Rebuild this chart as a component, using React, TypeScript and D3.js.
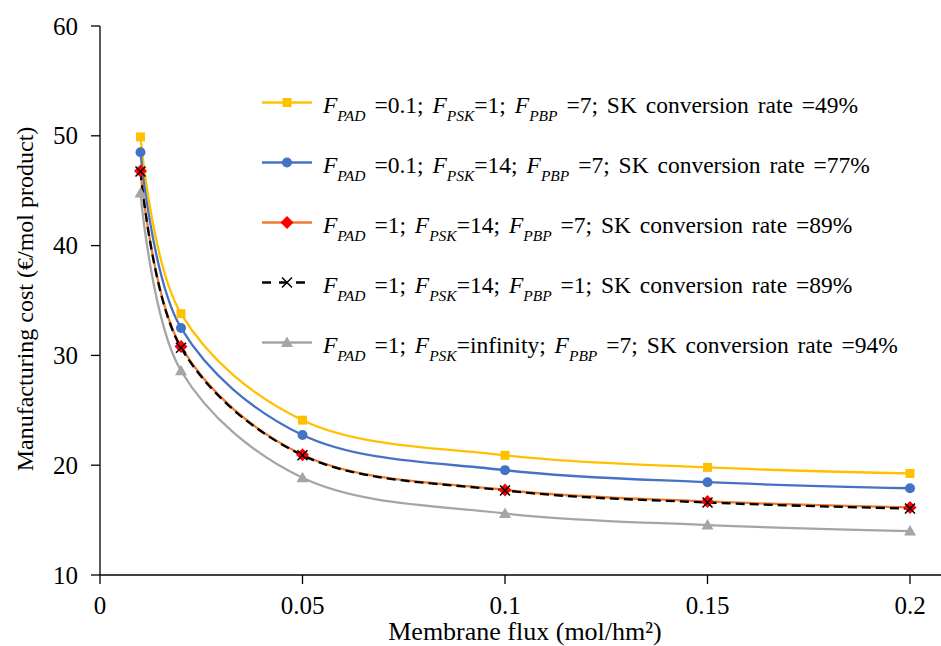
import React from "react";
import * as d3 from "d3";

const fluxValues = [0.01, 0.02, 0.05, 0.1, 0.15, 0.2];
const seriesYellow = [49.9, 33.8, 24.1, 20.9, 19.8, 19.25];
const seriesBlue = [48.5, 32.5, 22.75, 19.55, 18.45, 17.9];
const seriesOrange = [46.8, 30.8, 20.95, 17.75, 16.7, 16.15];
const seriesBlack = [46.75, 30.7, 20.9, 17.7, 16.6, 16.05];
const seriesGray = [44.8, 28.6, 18.85, 15.6, 14.55, 14.0];
const xTicks = [0, 0.05, 0.1, 0.15, 0.2];
const yTicks = [10, 20, 30, 40, 50, 60];

type Leg = { pad: string; psk: string; pbp: string; rate: string };
const legendLabels: Leg[] = [
  { pad: "0.1", psk: "1", pbp: "7", rate: "49%" },
  { pad: "0.1", psk: "14", pbp: "7", rate: "77%" },
  { pad: "1", psk: "14", pbp: "7", rate: "89%" },
  { pad: "1", psk: "14", pbp: "1", rate: "89%" },
  { pad: "1", psk: "infinity", pbp: "7", rate: "94%" },
];

const FONT = "Liberation Serif";

export default function App() {
  const W = 941, H = 646;
  const x = d3.scaleLinear().domain([0, 0.2]).range([100, 910]);
  const y = d3.scaleLinear().domain([10, 60]).range([575, 26]);
  const line = d3
    .line<number>()
    .x((_, i) => x(fluxValues[i]))
    .y((d) => y(d))
    .curve(d3.curveCatmullRom.alpha(0.5));

  const series = [
    { data: seriesYellow, color: "#FFC000", marker: "square", dash: undefined as string | undefined },
    { data: seriesBlue, color: "#4472C4", marker: "circle", dash: undefined },
    { data: seriesOrange, color: "#ED7D31", marker: "diamond", dash: undefined },
    { data: seriesBlack, color: "#000000", marker: "x", dash: "9,5" },
    { data: seriesGray, color: "#A5A5A5", marker: "triangle", dash: undefined },
  ];

  const drawMarker = (m: string, cx: number, cy: number, key: string) => {
    if (m === "square") return <rect key={key} x={cx - 4.5} y={cy - 4.5} width={9} height={9} fill="#FFC000" />;
    if (m === "circle") return <circle key={key} cx={cx} cy={cy} r={5} fill="#4472C4" />;
    if (m === "diamond")
      return <path key={key} d={`M${cx},${cy - 6.5}L${cx + 6.5},${cy}L${cx},${cy + 6.5}L${cx - 6.5},${cy}Z`} fill="#FF0000" />;
    if (m === "x")
      return (
        <path key={key} d={`M${cx - 5},${cy - 5}L${cx + 5},${cy + 5}M${cx + 5},${cy - 5}L${cx - 5},${cy + 5}`} stroke="#000" strokeWidth={1.5} fill="none" />
      );
    return <path key={key} d={`M${cx},${cy - 6}L${cx + 6},${cy + 4.5}L${cx - 6},${cy + 4.5}Z`} fill="#A5A5A5" />;
  };

  const legendY = [102.5, 162.5, 222.5, 282.5, 342.5];
  const ts = { fontFamily: FONT };

  return (
    <svg width={W} height={H} style={{ position: "absolute", left: 0, top: 0, fontFamily: FONT }}>
      <rect width={W} height={H} fill="#fff" />
      {/* axes */}
      <line x1={x(0)} x2={941} y1={575} y2={575} stroke="#000" strokeWidth={1.3} />
      <line x1={x(0)} x2={x(0)} y1={y(60)} y2={575} stroke="#000" strokeWidth={1.3} />
      {yTicks.map((t) => (
        <g key={"y" + t}>
          <line x1={x(0) - 9} x2={x(0)} y1={y(t)} y2={y(t)} stroke="#000" strokeWidth={1.3} />
          <text x={78} y={y(t) + 8.5} textAnchor="end" fontSize={25} style={ts}>
            {t}
          </text>
        </g>
      ))}
      {xTicks.map((t) => (
        <g key={"x" + t}>
          <line x1={x(t)} x2={x(t)} y1={575} y2={584} stroke="#000" strokeWidth={1.3} />
          <text x={x(t)} y={614} textAnchor="middle" fontSize={25} style={ts}>
            {t}
          </text>
        </g>
      ))}
      <text x={525} y={640} textAnchor="middle" fontSize={26} style={ts}>
        Membrane flux (mol/hm²)
      </text>
      <text transform="translate(33,299) rotate(-90)" textAnchor="middle" fontSize={24} style={ts}>
        Manufacturing cost (€/mol product)
      </text>
      {/* series */}
      {series.map((s, si) => (
        <g key={"s" + si}>
          <path d={line(s.data) || ""} fill="none" stroke={s.color} strokeWidth={2.3} strokeDasharray={s.dash} />
        </g>
      ))}
      {series.map((s, si) =>
        si === 3 ? null : <g key={"m" + si}>{s.data.map((v, i) => drawMarker(s.marker, x(fluxValues[i]), y(v), `${si}-${i}`))}</g>
      )}
      <g>{seriesBlack.map((v, i) => drawMarker("x", x(fluxValues[i]), y(v), `b-${i}`))}</g>
      {/* legend */}
      {legendLabels.map((l, i) => {
        const s = series[i];
        const ly = legendY[i];
        return (
          <g key={"l" + i}>
            <line x1={262} x2={312} y1={ly} y2={ly} stroke={s.color} strokeWidth={2.3} strokeDasharray={i === 3 ? "9,8" : undefined} />
            {drawMarker(s.marker, 287, ly, "lm" + i)}
            <text x={323} y={ly + 10} fontSize={23.5} style={{ ...ts, wordSpacing: "3px" }}>
              <tspan fontStyle="italic">F</tspan>
              <tspan fontStyle="italic" fontSize={15.5} dy={8}>PAD</tspan>
              <tspan dy={-8}>{` =${l.pad}; `}</tspan>
              <tspan fontStyle="italic">F</tspan>
              <tspan fontStyle="italic" fontSize={15.5} dy={8}>PSK</tspan>
              <tspan dy={-8}>{`=${l.psk}; `}</tspan>
              <tspan fontStyle="italic">F</tspan>
              <tspan fontStyle="italic" fontSize={15.5} dy={8}>PBP</tspan>
              <tspan dy={-8}>{` =${l.pbp}; SK conversion rate =${l.rate}`}</tspan>
            </text>
          </g>
        );
      })}
    </svg>
  );
}
